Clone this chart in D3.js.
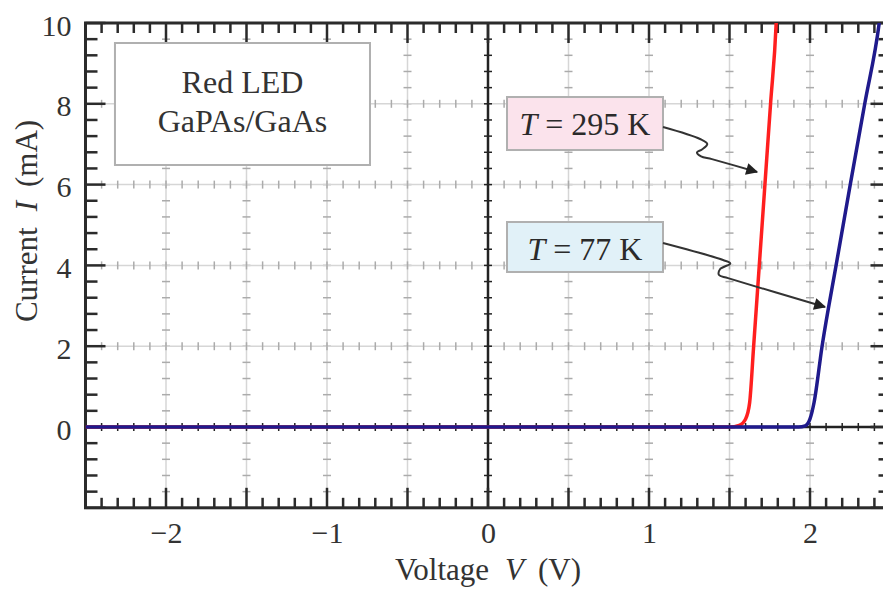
<!DOCTYPE html>
<html>
<head>
<meta charset="utf-8">
<script src="https://cdn.jsdelivr.net/npm/d3@7"></script>
<style>
  html, body { margin: 0; padding: 0; background: #fff; }
  svg { display: block; font-family: "Liberation Serif", "Times New Roman", serif; }
</style>
</head>
<body>
<div id="chart"></div>
<script>
// I-V curves of a red GaPAs/GaAs LED
const redVoltage  = [-2.5, 1.50, 1.56, 1.60, 1.625, 1.65, 1.685, 1.72, 1.755, 1.79, 1.80];
const redCurrent  = [0,    0,    0.04, 0.2,  0.6,   2,    4,     6,    8,     10,   11];
const blueVoltage = [-2.5, 1.93, 1.97, 2.0,  2.025, 2.075, 2.162, 2.25, 2.34, 2.43, 2.46];
const blueCurrent = [0,    0,    0.03, 0.2,  0.6,   2,     4,     6,    8,    10,   11];

const xTickValues = [-2, -1, 0, 1, 2];
const yTickValues = [0, 2, 4, 6, 8, 10];
const xGridValues = [-2, -1.5, -1, -0.5, 0.5, 1, 1.5, 2];
const yGridValues = [2, 4, 6, 8];

const boxLines = ["Red LED", "GaPAs/GaAs"];
const tempLabels = ["295 K", "77 K"];

// annotation anchors, in data units (V, mA)
const legendBox = { v0: -2.317, v1: -0.733, i0: 9.505, i1: 6.485 };
const tempBoxes = [
    { v0: 0.118, v1: 1.087, i0: 8.168, i1: 6.856, fill: "#fbe3ec", base: 7.228 },
    { v0: 0.118, v1: 1.087, i0: 5.074, i1: 3.837, fill: "#e1f1f8", base: 4.134 }
];
const arrowPaths = [
    [[1.087, 7.426], [1.317, 7.129], [1.362, 7.005], [1.329, 6.870], [1.298, 6.800], [1.323, 6.700], [1.391, 6.630], [1.671, 6.312]],
    [[1.087, 4.554], [1.460, 4.134], [1.505, 4.050], [1.441, 3.905], [1.435, 3.760], [1.491, 3.685], [2.093, 2.970]]
];

const W = 883, H = 589;
const svg = d3.select('#chart').append('svg')
    .attr('width', W)
    .attr('height', H);

const x = d3.scaleLinear().domain([-2.5, 2.5]).range([85.5, 890.5]);
const y = d3.scaleLinear().domain([-2, 10]).range([507.8, 23]);

const [xL, xR] = x.range();
const [yB, yT] = y.range();

const defs = svg.append('defs');
defs.append('clipPath').attr('id', 'plot-clip')
    .append('rect')
    .attr('x', xL).attr('y', yT)
    .attr('width', xR - xL).attr('height', yB - yT);

defs.append('marker')
    .attr('id', 'arrowhead')
    .attr('viewBox', '0 0 10 10')
    .attr('refX', 9).attr('refY', 5)
    .attr('markerUnits', 'userSpaceOnUse')
    .attr('orient', 'auto')
    .attr('markerWidth', 20).attr('markerHeight', 12)
    .append('path')
    .attr('d', 'M0,0 L10,5 L0,10 Z')
    .attr('fill', '#222');

const minorX = d3.range(-25, 26).map(i => i / 10);
const minorY = d3.range(-5, 26).map(i => i * 0.4);
const majorX = d3.range(-5, 6).map(i => i / 2);
const majorY = d3.range(-1, 6).map(i => i * 2);

// grid lines with little cross marks
const grid = svg.append('g');
xGridValues.forEach(v => {
    grid.append('line')
        .attr('x1', x(v)).attr('x2', x(v))
        .attr('y1', yB).attr('y2', yT)
        .attr('stroke', '#d6d6d6').attr('stroke-width', 1.5);
    minorY.forEach(c => {
        grid.append('line')
            .attr('x1', x(v) - 4).attr('x2', x(v) + 4)
            .attr('y1', y(c)).attr('y2', y(c))
            .attr('stroke', '#ababab').attr('stroke-width', 1.5);
    });
});
yGridValues.forEach(c => {
    grid.append('line')
        .attr('x1', xL).attr('x2', xR)
        .attr('y1', y(c)).attr('y2', y(c))
        .attr('stroke', '#d6d6d6').attr('stroke-width', 1.5);
    minorX.forEach(v => {
        grid.append('line')
            .attr('x1', x(v)).attr('x2', x(v))
            .attr('y1', y(c) - 4).attr('y2', y(c) + 4)
            .attr('stroke', '#ababab').attr('stroke-width', 1.5);
    });
});

// zero axes (black)
const axes0 = svg.append('g');
axes0.append('line')
    .attr('x1', x(0)).attr('x2', x(0)).attr('y1', yB).attr('y2', yT)
    .attr('stroke', '#222').attr('stroke-width', 2.5);
axes0.append('line')
    .attr('x1', xL).attr('x2', xR).attr('y1', y(0)).attr('y2', y(0))
    .attr('stroke', '#222').attr('stroke-width', 2.5);
minorY.forEach(c => {
    axes0.append('line')
        .attr('x1', x(0) - 4).attr('x2', x(0) + 4).attr('y1', y(c)).attr('y2', y(c))
        .attr('stroke', '#222').attr('stroke-width', 1.5);
});
minorX.forEach(v => {
    axes0.append('line')
        .attr('x1', x(v)).attr('x2', x(v)).attr('y1', y(0) - 4).attr('y2', y(0) + 4)
        .attr('stroke', '#222').attr('stroke-width', 1.5);
});

// frame ticks, pointing inward
const frame = svg.append('g').attr('stroke', '#2b2b2b').attr('stroke-width', 2.5);
minorX.forEach(v => {
    const len = majorX.some(m => Math.abs(m - v) < 1e-6) ? 20 : 10;
    frame.append('line').attr('x1', x(v)).attr('x2', x(v)).attr('y1', yT).attr('y2', yT + len);
    frame.append('line').attr('x1', x(v)).attr('x2', x(v)).attr('y1', yB).attr('y2', yB - len);
});
minorY.forEach(c => {
    const len = majorY.some(m => Math.abs(m - c) < 1e-6) ? 20 : 12;
    frame.append('line').attr('x1', xL).attr('x2', xL + len).attr('y1', y(c)).attr('y2', y(c));
    frame.append('line').attr('x1', xR).attr('x2', xR - len).attr('y1', y(c)).attr('y2', y(c));
});
frame.append('rect')
    .attr('x', xL).attr('y', yT)
    .attr('width', xR - xL).attr('height', yB - yT)
    .attr('fill', 'none').attr('stroke-width', 3);

// tick labels through d3 axes (ticks hidden, labels only)
const xAxis = svg.append('g')
    .attr('transform', `translate(0,${yB})`)
    .call(d3.axisBottom(x).tickValues(xTickValues).tickSize(0).tickPadding(14)
        .tickFormat(d => d < 0 ? '\u2212' + Math.abs(d) : d));
const yAxis = svg.append('g')
    .attr('transform', `translate(${xL},0)`)
    .call(d3.axisLeft(y).tickValues(yTickValues).tickSize(0).tickPadding(14));
[xAxis, yAxis].forEach(a => {
    a.select('.domain').remove();
    a.selectAll('text')
        .attr('font-family', '"Liberation Serif", serif')
        .attr('font-size', 30)
        .attr('fill', '#333');
});
yAxis.selectAll('text').attr('dy', '0.4em');

// curves
const line = d3.line()
    .x(d => x(d[0]))
    .y(d => y(d[1]))
    .curve(d3.curveMonotoneX);

const curves = svg.append('g').attr('clip-path', 'url(#plot-clip)');
curves.append('path')
    .datum(redVoltage.map((v, i) => [v, redCurrent[i]]))
    .attr('d', line)
    .attr('fill', 'none')
    .attr('stroke', '#ff1f1f')
    .attr('stroke-width', 3.5);
curves.append('path')
    .datum(blueVoltage.map((v, i) => [v, blueCurrent[i]]))
    .attr('d', line)
    .attr('fill', 'none')
    .attr('stroke', '#1f1a8c')
    .attr('stroke-width', 3.5);

// legend box
svg.append('rect')
    .attr('x', x(legendBox.v0)).attr('y', y(legendBox.i0))
    .attr('width', x(legendBox.v1) - x(legendBox.v0))
    .attr('height', y(legendBox.i1) - y(legendBox.i0))
    .attr('fill', '#fff').attr('stroke', '#b0b0b0').attr('stroke-width', 2);
const legendText = svg.append('text')
    .attr('text-anchor', 'middle')
    .attr('font-size', 32)
    .attr('fill', '#333');
legendText.selectAll('tspan')
    .data(boxLines)
    .join('tspan')
    .attr('x', (x(legendBox.v0) + x(legendBox.v1)) / 2)
    .attr('y', (d, i) => i === 0 ? y(8.267) : y(7.302))
    .text(d => d);

// temperature boxes and arrows
const arrowLine = d3.line()
    .x(d => x(d[0]))
    .y(d => y(d[1]))
    .curve(d3.curveCatmullRom.alpha(0.5));

tempBoxes.forEach((b, k) => {
    svg.append('rect')
        .attr('x', x(b.v0)).attr('y', y(b.i0))
        .attr('width', x(b.v1) - x(b.v0))
        .attr('height', y(b.i1) - y(b.i0))
        .attr('fill', b.fill).attr('stroke', '#b0b0b0').attr('stroke-width', 2);
    const t = svg.append('text')
        .attr('x', (x(b.v0) + x(b.v1)) / 2)
        .attr('y', y(b.base))
        .attr('text-anchor', 'middle')
        .attr('font-size', 32)
        .attr('fill', '#2a2a2a');
    t.append('tspan').attr('font-style', 'italic').text('T');
    t.append('tspan').text(' = ' + tempLabels[k]);

    svg.append('path')
        .datum(arrowPaths[k])
        .attr('d', arrowLine)
        .attr('fill', 'none')
        .attr('stroke', '#333')
        .attr('stroke-width', 2)
        .attr('marker-end', 'url(#arrowhead)');
});

// axis titles
const xTitle = svg.append('text')
    .attr('x', x(0))
    .attr('y', 580)
    .attr('text-anchor', 'middle')
    .attr('font-size', 31)
    .attr('fill', '#333');
xTitle.append('tspan').text('Voltage');
xTitle.append('tspan').attr('dx', 16).attr('font-style', 'italic').text('V');
xTitle.append('tspan').attr('dx', 14).text('(V)');

const yTitle = svg.append('text')
    .attr('transform', `translate(37,${y(5.1)}) rotate(-90)`)
    .attr('text-anchor', 'middle')
    .attr('font-size', 31)
    .attr('fill', '#333');
yTitle.append('tspan').text('Current');
yTitle.append('tspan').attr('dx', 16).attr('font-style', 'italic').text('I');
yTitle.append('tspan').attr('dx', 14).text('(mA)');
</script>
</body>
</html>
